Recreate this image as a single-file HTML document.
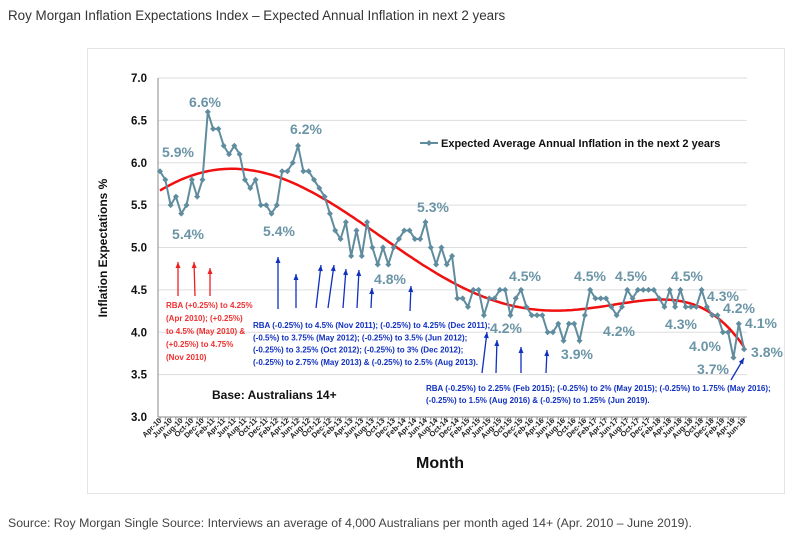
<!DOCTYPE html>
<html><head><meta charset="utf-8"><style>
body{margin:0;background:#fff;width:807px;height:547px;overflow:hidden;font-family:"Liberation Sans",sans-serif}
#title{position:absolute;left:8px;top:8px;font-size:13.4px;color:#333}
#source{position:absolute;left:8px;top:516px;font-size:12.3px;color:#444}
#box{position:absolute;left:87px;top:48px;width:696px;height:444px;border:1px solid #e4e4e4}
svg{position:absolute;left:0;top:0}
</style></head><body>
<div id="title">Roy Morgan Inflation Expectations Index – Expected Annual Inflation in next 2 years</div>
<div id="box"></div>
<div id="source">Source: Roy Morgan Single Source: Interviews an average of 4,000 Australians per month aged 14+ (Apr. 2010 – June 2019).</div>
<svg id="chart" width="807" height="547"></svg>
<script>
const values=[5.9,5.8,5.5,5.6,5.4,5.5,5.8,5.6,5.8,6.6,6.4,6.4,6.2,6.1,6.2,6.1,5.8,5.7,5.8,5.5,5.5,5.4,5.5,5.9,5.9,6.0,6.2,5.9,5.9,5.8,5.7,5.6,5.4,5.2,5.1,5.3,4.9,5.2,4.9,5.3,5.0,4.8,5.0,4.8,5.0,5.1,5.2,5.2,5.1,5.1,5.3,5.0,4.8,5.0,4.8,4.9,4.4,4.4,4.3,4.5,4.5,4.2,4.4,4.4,4.5,4.5,4.2,4.4,4.5,4.3,4.2,4.2,4.2,4.0,4.0,4.1,3.9,4.1,4.1,3.9,4.2,4.5,4.4,4.4,4.4,4.3,4.2,4.3,4.5,4.4,4.5,4.5,4.5,4.5,4.4,4.3,4.5,4.3,4.5,4.3,4.3,4.3,4.5,4.3,4.2,4.2,4.0,4.0,3.7,4.1,3.8];
const monthNames=["Jan","Feb","Mar","Apr","May","Jun","Jul","Aug","Sep","Oct","Nov","Dec"];
const yTicks=[3.0,3.5,4.0,4.5,5.0,5.5,6.0,6.5,7.0];
const pctLabels=[["6.6%",205,102],["5.9%",178,152],["5.4%",188,234],["6.2%",306,129],["5.4%",279,231],["5.3%",433,207],["4.8%",390,279],["4.5%",525,276],["4.2%",506,328],["3.9%",577,354],["4.5%",590,276],["4.5%",631,276],["4.2%",619,331],["4.5%",687,276],["4.3%",723,296],["4.3%",681,324],["4.2%",739,308],["4.1%",761,323],["4.0%",705,346],["3.8%",767,352],["3.7%",713,369]];
const NS="http://www.w3.org/2000/svg";
const svg=document.getElementById('chart');
const X0=160,DX=5.31,Y0=417,PU=84.75;
const xs=i=>X0+DX*i, ys=v=>Y0-(v-3)*PU;
function el(t,a,p){const e=document.createElementNS(NS,t);for(const k in a)e.setAttribute(k,a[k]);(p||svg).appendChild(e);return e;}
yTicks.forEach(v=>{
 const g=el('line',{x1:158,x2:747,y1:ys(v),y2:ys(v),stroke:v==3?'#888':'#ddd','stroke-width':1});
 
 
 const t=el('text',{x:147,y:ys(v)+4,'text-anchor':'end','font-size':11.5,'font-weight':'bold',fill:'#111'});
 t.textContent=v.toFixed(1);
 
 
});
const ax=el('line',{x1:158,x2:158,y1:78,y2:417,stroke:'#888'});


for(let i=0;i<values.length;i++){
 el('line',{x1:xs(i),x2:xs(i),y1:417,y2:420,stroke:'#888'});
 if(i%2==0){
  const m=(3+i)%12, yr=10+Math.floor((3+i)/12);
  const t=el('text',{transform:`translate(${xs(i)+2},${421}) rotate(-45)`,'text-anchor':'end','font-size':7.5,'font-weight':'bold',fill:'#222'});
  t.textContent=monthNames[m]+'-'+yr;
  
  
 }
}
let t=el('text',{x:440,y:468,'text-anchor':'middle','font-size':16,'font-weight':'bold',fill:'#111'});t.textContent='Month';


t=el('text',{transform:'translate(107,248) rotate(-90)','text-anchor':'middle','font-size':12,'font-weight':'bold',fill:'#111'});t.textContent='Inflation Expectations %';


(function(){
 const n=values.length,D=5,N=D+1;const A=[],b=[];
 for(let r=0;r<N;r++){A.push(new Array(N).fill(0));b.push(0);}
 const tt=i=>2*i/(n-1)-1;
 for(let i=0;i<n;i++){const p=[];for(let k=0;k<N;k++)p.push(Math.pow(tt(i),k));
  for(let r=0;r<N;r++){b[r]+=p[r]*values[i];for(let c=0;c<N;c++)A[r][c]+=p[r]*p[c];}}
 for(let c=0;c<N;c++){let mx=c;for(let r=c+1;r<N;r++)if(Math.abs(A[r][c])>Math.abs(A[mx][c]))mx=r;
  [A[c],A[mx]]=[A[mx],A[c]];[b[c],b[mx]]=[b[mx],b[c]];
  for(let r=0;r<N;r++)if(r!=c){const f=A[r][c]/A[c][c];for(let k=c;k<N;k++)A[r][k]-=f*A[c][k];b[r]-=f*b[c];}}
 const co=b.map((v,i)=>v/A[i][i]);
 let d='';for(let s=0;s<=200;s++){const i=s*(n-1)/200;let v=0;for(let k=0;k<N;k++)v+=co[k]*Math.pow(tt(i),k);d+=(s?'L':'M')+xs(i).toFixed(1)+','+ys(v).toFixed(1);}
 const p=el('path',{d,fill:'none',stroke:'#f01010','stroke-width':2.5});
 
 
})();
const pl=el('polyline',{points:values.map((v,i)=>xs(i)+','+ys(v)).join(' '),fill:'none',stroke:'#5f8c9e','stroke-width':2});


values.forEach((v,i)=>{
 const x=xs(i),y=ys(v);
 const m=el('polygon',{points:`${x},${y-3} ${x+3},${y} ${x},${y+3} ${x-3},${y}`,fill:'#5f8c9e'});
 
 
});
pctLabels.forEach(l=>{
 const e=el('text',{x:l[1],y:l[2]+5,'text-anchor':'middle','font-size':14,'font-weight':'bold',fill:'#6b95a6'});
 e.textContent=l[0];
 
 
});
el('line',{x1:420,x2:438,y1:143,y2:143,stroke:'#5f8c9e','stroke-width':2});
el('polygon',{points:'429,140 432,143 429,146 426,143',fill:'#5f8c9e'});
t=el('text',{x:441,y:147,'font-size':11,'font-weight':'bold',fill:'#111'});t.textContent='Expected Average Annual Inflation in the next 2 years';


const arrows=[[178,296,178,262,'#f02020'],[195,296,194,262,'#f02020'],[210,296,210,268,'#f02020'],
[278,309,278,257,'#1030c0'],[296,308,296,274,'#1030c0'],[316,308,321,265,'#1030c0'],[328,308,334,265,'#1030c0'],[343,308,346,269,'#1030c0'],[357,308,359,270,'#1030c0'],[371,308,372,288,'#1030c0'],[410,311,411,286,'#1030c0'],
[482,373,487,332,'#1030c0'],[496,373,497,340,'#1030c0'],[521,373,521,347,'#1030c0'],[546,373,547,350,'#1030c0'],[731,380,744,358,'#1030c0']];
arrows.forEach(a=>{
 const g=el('g',{});
 
 
 el('line',{x1:a[0],y1:a[1],x2:a[2],y2:a[3],stroke:a[4],'stroke-width':1.3},g);
 const ang=Math.atan2(a[3]-a[1],a[2]-a[0]);const L=6,W=2.5;
 const bx=a[2]-L*Math.cos(ang),by=a[3]-L*Math.sin(ang);
 el('polygon',{points:`${a[2]},${a[3]} ${bx-W*Math.sin(ang)},${by+W*Math.cos(ang)} ${bx+W*Math.sin(ang)},${by-W*Math.cos(ang)}`,fill:a[4]},g);
});
function block(lines,x,y,lh,col,name){lines.forEach((s,k)=>{const e=el('text',{x,y:y+k*lh,'font-size':8,fill:col,'font-weight':'bold'});e.textContent=s;
 
 });}
block(['RBA (+0.25%) to  4.25%','(Apr 2010); (+0.25%)','to 4.5% (May 2010) &','(+0.25%) to 4.75%','(Nov 2010)'],166,308,13,'#f03030','rba-increase-note');
block(['RBA (-0.25%) to  4.5% (Nov 2011); (-0.25%) to 4.25% (Dec 2011);','(-0.5%) to 3.75% (May 2012); (-0.25%) to 3.5% (Jun 2012);','(-0.25%) to 3.25% (Oct 2012); (-0.25%) to 3% (Dec 2012);','(-0.25%) to 2.75% (May 2013) & (-0.25%) to 2.5% (Aug 2013).'],253,328,12.3,'#1030c0','rba-cuts-note-2011');
block(['RBA (-0.25%) to  2.25% (Feb 2015); (-0.25%) to 2% (May 2015); (-0.25%) to 1.75% (May 2016);','(-0.25%) to 1.5% (Aug 2016) & (-0.25%) to 1.25% (Jun 2019).'],426,391,12,'#1030c0','rba-cuts-note-2015');
t=el('text',{x:212,y:399,'font-size':12,'font-weight':'bold',fill:'#111'});t.textContent='Base: Australians 14+';


</script>
</body></html>
